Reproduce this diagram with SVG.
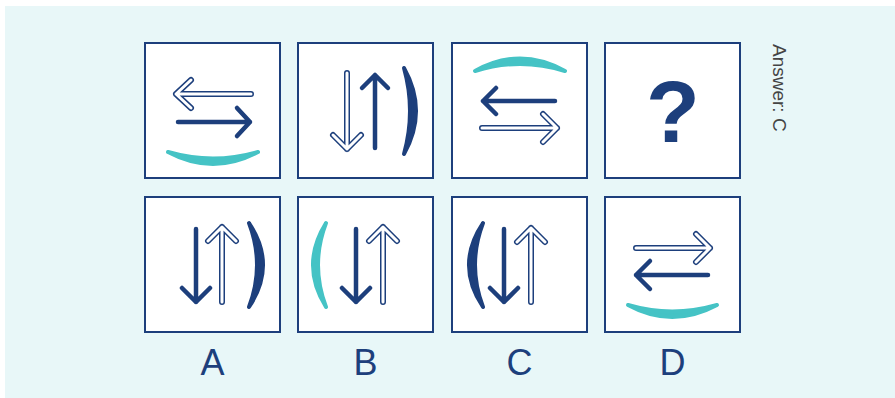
<svg xmlns="http://www.w3.org/2000/svg" width="895" height="398" viewBox="0 0 895 398">
<defs>
<style>
.box{fill:#ffffff;stroke:#1d3f7c;stroke-width:2}
.solid{fill:none;stroke:#1d3f7c;stroke-width:4.5;stroke-linecap:round;stroke-linejoin:round}
.hol-o{fill:none;stroke:#1d3f7c;stroke-width:6;stroke-linecap:round;stroke-linejoin:round}
.hol-i{fill:none;stroke:#ffffff;stroke-width:3;stroke-linecap:round;stroke-linejoin:round}
.teal{fill:#45c3c5;stroke:#45c3c5;stroke-width:4;stroke-linejoin:round}
.navy{fill:#1d3f7c;stroke:#1d3f7c;stroke-width:4;stroke-linejoin:round}
.lbl{font-family:"Liberation Sans",Arial,sans-serif;font-size:36px;fill:#1d3f7c;text-anchor:middle}
</style>
</defs>
<rect x="5" y="6" width="890" height="392" fill="#e8f7f8"/>

<g id="q1">
<rect class="box" x="145" y="43" width="135" height="135"/>
<path class="hol-o" d="M251,94 H176 M191,80 L176,94 L191,108"/>
<path class="hol-i" d="M251,94 H176 M191,80 L176,94 L191,108"/>
<path class="solid" d="M178,122 H250 M237,108 L250,122 L237,136"/>
<path class="teal" d="M168,152 Q213,176 258,152 Q213,165 168,152 Z"/>
</g>

<g id="q2">
<rect class="box" x="298" y="43" width="135" height="135"/>
<path class="hol-o" d="M347,73 V149 M333,135 L347,149 L361,135"/>
<path class="hol-i" d="M347,73 V149 M333,135 L347,149 L361,135"/>
<path class="solid" d="M375,148 V75 M362,88 L375,75 L388,88"/>
<path class="navy" d="M404,68 Q428,111 404,154 Q416,111 404,68 Z"/>
</g>

<g id="q3">
<rect class="box" x="452" y="43" width="135" height="135"/>
<path class="teal" d="M475,71 Q520,46 565,71 Q520,57 475,71 Z"/>
<path class="solid" d="M555,101 H483 M496,88 L483,101 L496,114"/>
<path class="hol-o" d="M482,128 H557 M543,114 L557,128 L543,142"/>
<path class="hol-i" d="M482,128 H557 M543,114 L557,128 L543,142"/>
</g>

<g id="q4">
<rect class="box" x="605" y="43" width="135" height="135"/>
<text x="673" y="142" font-family="Liberation Sans,Arial,sans-serif" font-weight="bold" font-size="88" fill="#1d3f7c" text-anchor="middle">?</text>
</g>

<g id="optA">
<rect class="box" x="145" y="197" width="135" height="135"/>
<path class="solid" d="M196,229 V302 M182,288 L196,302 L210,288"/>
<path class="hol-o" d="M222,302 V227 M208,241 L222,227 L236,241"/>
<path class="hol-i" d="M222,302 V227 M208,241 L222,227 L236,241"/>
<path class="navy" d="M249,223 Q277,265 249,307 Q265,265 249,223 Z"/>
<text class="lbl" x="212.5" y="375">A</text>
</g>

<g id="optB">
<rect class="box" x="298" y="197" width="135" height="135"/>
<path class="teal" d="M326,223 Q300,265 326,307 Q310,265 326,223 Z"/>
<path class="solid" d="M356,229 V302 M342,288 L356,302 L370,288"/>
<path class="hol-o" d="M383,302 V227 M369,241 L383,227 L397,241"/>
<path class="hol-i" d="M383,302 V227 M369,241 L383,227 L397,241"/>
<text class="lbl" x="365.5" y="375">B</text>
</g>

<g id="optC">
<rect class="box" x="452" y="197" width="135" height="135"/>
<path class="navy" d="M483,223 Q455,265 483,307 Q467,265 483,223 Z"/>
<path class="solid" d="M504,229 V302 M490,288 L504,302 L518,288"/>
<path class="hol-o" d="M531,302 V228 M517,242 L531,228 L545,242"/>
<path class="hol-i" d="M531,302 V228 M517,242 L531,228 L545,242"/>
<text class="lbl" x="519.5" y="375">C</text>
</g>

<g id="optD">
<rect class="box" x="605" y="197" width="135" height="135"/>
<path class="hol-o" d="M636,248 H710 M696,234 L710,248 L696,262"/>
<path class="hol-i" d="M636,248 H710 M696,234 L710,248 L696,262"/>
<path class="solid" d="M708,275 H636 M650,261 L636,275 L650,289"/>
<path class="teal" d="M628,305 Q672,329 717,305 Q672,318 628,305 Z"/>
<text class="lbl" x="672.5" y="375">D</text>
</g>

<text transform="translate(773,44) rotate(90)" font-family="Liberation Sans,Arial,sans-serif" font-size="19" fill="#444444">Answer: C</text>
<g id="connectors"/>
</svg>
